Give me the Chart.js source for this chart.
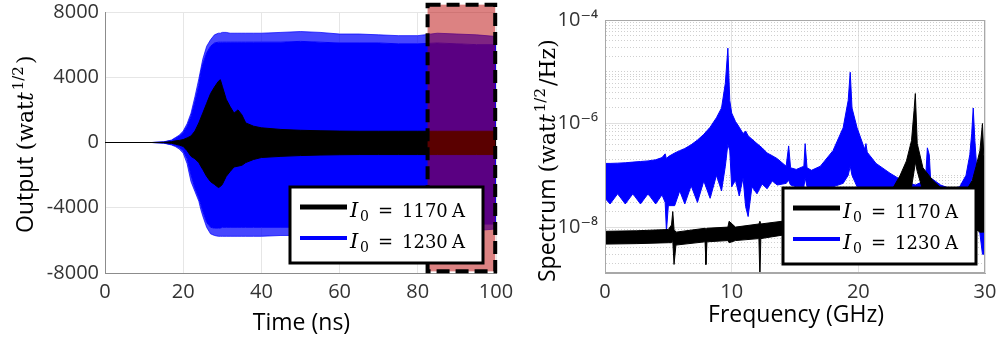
<!DOCTYPE html>
<html>
<head>
<meta charset="utf-8">
<script src="https://cdn.jsdelivr.net/npm/chart.js@4.4.1/dist/chart.umd.min.js"></script>
<style>
  html, body { margin: 0; padding: 0; background: #fff; overflow: hidden; }
  #wrap { position: relative; width: 999px; height: 341px; }
  #left { position: absolute; left: 0; top: 0; }
  #right { position: absolute; left: 500px; top: 0; }
</style>
</head>
<body>
<div id="wrap">
  <canvas id="left" width="520" height="341"></canvas>
  <canvas id="right" width="499" height="341"></canvas>
</div>
<script>
// ---- series labels / colours
const currents = ['1170', '1230'];
const seriesColors = ['#000000', '#0000ff'];

// ---- left panel: output envelopes vs time (ns)
const timeNs = [0, 12, 15, 17, 18, 19, 20, 21, 22, 23, 24, 24.5, 25, 26, 27, 28, 29, 29.5, 30, 31,
  32, 33, 34, 35, 36, 38, 40, 45, 50, 55, 60, 65, 70, 75, 80, 85, 90, 95, 100];
const blueOutTop = [0, 0, 30, 120, 250, 400, 600, 1000, 1600, 2500, 3500, 4300, 4800, 5500, 5900, 6100, 6150, 6150, 6150, 6150,
  6150, 6150, 6150, 6150, 6150, 6150, 6150, 6150, 6200, 6150, 6100, 6100, 6100, 6050, 6050, 6100, 6050, 6000, 6000];
const blueOutPeakTop = [0, 0, 40, 150, 300, 450, 700, 1150, 1800, 2800, 3900, 4500, 5100, 5900, 6300, 6600, 6700, 6700, 6750, 6750,
  6700, 6700, 6700, 6700, 6700, 6700, 6700, 6750, 6800, 6750, 6650, 6650, 6600, 6550, 6550, 6700, 6650, 6600, 6500];
const blueOutBottom = [0, 0, -30, -120, -200, -300, -500, -1000, -2000, -2800, -3400, -3800, -4200, -4900, -5200, -5250, -5250, -5250, -5200, -5200,
  -5200, -5200, -5200, -5200, -5200, -5200, -5200, -5200, -5200, -5200, -5200, -5150, -5150, -5150, -5100, -5100, -5050, -5000, -5000];
const blueOutPeakBottom = [0, 0, -40, -150, -250, -400, -650, -1300, -2400, -3000, -3600, -4100, -4500, -5200, -5600, -5700, -5750, -5750, -5750, -5750,
  -5750, -5750, -5750, -5750, -5750, -5750, -5750, -5700, -5700, -5700, -5700, -5650, -5650, -5600, -5600, -5500, -5450, -5400, -5300];
const blackOutTop = [0, 0, 10, 50, 100, 130, 180, 280, 400, 700, 1200, 1500, 1800, 2400, 3000, 3400, 3750, 3850, 3450, 2650,
  2200, 1800, 2000, 1700, 1200, 1000, 900, 800, 750, 720, 700, 690, 690, 690, 690, 690, 690, 690, 690];
const blackOutBottom = [0, 0, -10, -50, -100, -160, -240, -500, -850, -1000, -1230, -1450, -1650, -2080, -2400, -2570, -2760, -2700, -2570, -2080,
  -1780, -1500, -1450, -1400, -1230, -1040, -920, -850, -800, -770, -750, -740, -740, -740, -740, -740, -740, -740, -740];
const timeTicks = [0, 20, 40, 60, 80, 100];
const outputTicks = [-8000, -4000, 0, 4000, 8000];
const highlightNs = [82.5, 99.8];
const highlightOut = [-7900, 8450];

// ---- right panel: spectrum envelopes vs frequency (GHz)
const freqBlue = [0, 0.4, 1.0, 1.6, 2.2, 2.8, 3.4, 4.0, 4.5, 4.75, 4.85, 5.0, 5.5, 5.9, 6.3, 6.8, 7.3, 7.8, 8.3, 8.8,
  9.2, 9.5, 9.7, 9.85, 10.0, 10.3, 10.6, 10.9, 11.1, 11.3, 11.6, 12.0, 12.4, 12.8, 13.2, 13.6, 14.3, 14.5, 14.65, 15.1,
  15.7, 15.8, 15.95, 16.3, 17.0, 18.0, 18.8, 19.2, 19.36, 19.5, 19.9, 20.5, 20.6, 20.7, 21.4, 22.5, 23.5, 24.5, 25.3, 25.45,
  25.6, 25.7, 26.5, 27.3, 28.0, 28.5, 28.8, 28.95, 29.07, 29.2, 29.45, 29.8, 30];
const blueSpecTop = [1.7e-7, 1.7e-7, 1.72e-7, 1.75e-7, 1.8e-7, 1.85e-7, 1.9e-7, 2.0e-7, 2.2e-7, 2.6e-7,
  2.1e-7, 2.3e-7, 2.7e-7, 3.0e-7, 3.3e-7, 3.9e-7, 4.8e-7, 6.2e-7, 8.5e-7, 1.3e-6,
  2.0e-6, 6.0e-6, 2.86e-5, 2.8e-6, 1.6e-6, 1.1e-6, 8.5e-7, 6.4e-7, 7.2e-7, 5.8e-7,
  5.0e-7, 4.1e-7, 3.4e-7, 2.7e-7, 2.4e-7, 2.1e-7, 1.5e-7, 3.7e-7, 1.4e-7, 1.3e-7,
  1.5e-7, 4.1e-7, 1.4e-7, 1.25e-7, 1.5e-7, 3.0e-7, 8.3e-7, 2.8e-6, 9.8e-6, 2.0e-6,
  8.3e-7, 3.2e-7, 4.1e-7, 2.8e-7, 1.7e-7, 1.1e-7, 7.8e-8, 6.5e-8, 8.0e-8, 3.4e-7,
  2.5e-7, 9.0e-8, 6.5e-8, 5.5e-8, 6.0e-8, 1.0e-7, 2.5e-7, 6.4e-7, 2.0e-6, 4.7e-7,
  6.0e-8, 2.5e-8, 1.0e-8];
const blueSpecBottom = [3.6e-8, 2.8e-8, 4.4e-8, 2.8e-8, 4.4e-8, 2.8e-8, 4.4e-8, 2.8e-8, 4.2e-8, 3.0e-8,
  8.3e-9, 2.6e-8, 2.6e-8, 5.0e-8, 2.8e-8, 6.3e-8, 3.0e-8, 7.8e-8, 3.6e-8, 1.0e-7,
  5.0e-8, 1.5e-7, 4.0e-7, 3.0e-7, 6.0e-8, 8.0e-8, 4.0e-8, 9.0e-8, 2.5e-8, 1.6e-8,
  6.0e-8, 4.4e-8, 6.8e-8, 5.5e-8, 7.8e-8, 6.5e-8, 7.0e-8, 8.0e-8, 6.5e-8, 6.0e-8,
  6.0e-8, 9.0e-8, 6.0e-8, 5.5e-8, 5.8e-8, 6.0e-8, 7.0e-8, 1.0e-7, 1.5e-7, 1.0e-7,
  6.0e-8, 5.5e-8, 5.5e-8, 5.5e-8, 5.0e-8, 4.5e-8, 4.0e-8, 3.5e-8, 4.0e-8, 5.0e-8,
  4.5e-8, 4.0e-8, 3.5e-8, 3.0e-8, 3.5e-8, 4.5e-8, 6.0e-8, 8.0e-8, 1.0e-7, 6.0e-8,
  1.5e-8, 3.0e-9, 3.0e-9];
const freqBlack = [0, 2.5, 5.0, 5.25, 5.35, 5.45, 5.6, 7.9, 7.97, 8.05, 9.7, 9.8, 10.3, 12.15, 12.23, 12.3, 14, 18, 22, 22.7,
  23.3, 23.8, 24.2, 24.4, 24.5, 24.65, 25.1, 25.9, 26.6, 27.5, 28.5, 29.0, 29.3, 29.6, 29.8, 29.9, 30];
const blackSpecTop = [8.3e-9, 8.5e-9, 9.0e-9, 1.1e-8, 2.0e-8, 9.0e-9, 8.0e-9, 9.5e-9, 9.0e-9, 9.5e-9,
  1.0e-8, 1.3e-8, 1.0e-8, 1.15e-8, 1.3e-8, 1.15e-8, 1.3e-8, 1.8e-8, 3.0e-8, 5.5e-8,
  1.0e-7, 1.9e-7, 4.7e-7, 1.8e-6, 3.8e-6, 4.1e-7, 1.4e-7, 7.9e-8, 5.5e-8, 4.0e-8,
  5.0e-8, 8.0e-8, 1.5e-7, 3.0e-7, 1.0e-6, 2.5e-7, 2.0e-7];
const blackSpecBottom = [4.7e-9, 4.8e-9, 5.0e-9, 5.0e-9, 5.5e-9, 1.9e-9, 4.5e-9, 5.2e-9, 1.9e-9, 5.2e-9,
  5.5e-9, 5.0e-9, 5.5e-9, 6.0e-9, 1.0e-9, 6.0e-9, 7.0e-9, 9.0e-9, 1.3e-8, 1.8e-8,
  2.5e-8, 3.5e-8, 6.0e-8, 1.2e-7, 1.8e-7, 1.2e-7, 5.0e-8, 3.0e-8, 2.2e-8, 2.0e-8,
  2.0e-8, 2.0e-8, 9.0e-9, 8.0e-9, 8.0e-9, 8.0e-9, 1.0e-8];
const freqTicks = [0, 10, 20, 30];
const specMajor = [1e-8, 1e-6, 1e-4];
const specMajorLabels = ['10\u207B\u2078', '10\u207B\u2076', '10\u207B\u2074'];
const specMin = 1.3e-9, specMax = 1e-4;

const SANS = "'Open Sans', 'DejaVu Sans', sans-serif";
const SERIF = "'DejaVu Serif', serif";

function pts(xs, ys) { return xs.map((x, i) => ({ x: x, y: ys[i] })); }

function band(data, color, fill) {
  return { data: data, borderColor: color, backgroundColor: color, borderWidth: 1,
    pointRadius: 0, fill: fill, tension: 0 };
}

function fixedTicks(values) {
  return function (scale) { scale.ticks = values.map(v => ({ value: v })); };
}

function drawYTitle(ctx, bx, by, word, tail) {
  ctx.save();
  ctx.translate(bx, by);
  ctx.rotate(-Math.PI / 2);
  ctx.fillStyle = '#000';
  ctx.textAlign = 'left';
  ctx.textBaseline = 'alphabetic';
  let x = 0;
  ctx.font = '23px ' + SANS;
  ctx.fillText(word + ' ', x, 0); x += ctx.measureText(word + ' ').width;
  ctx.font = '22px ' + SERIF;
  ctx.fillText('(wat', x, 0); x += ctx.measureText('(wat').width;
  ctx.font = 'italic 22px ' + SERIF;
  ctx.fillText('t', x, 0); x += ctx.measureText('t').width + 2;
  ctx.font = '15px ' + SERIF;
  ctx.fillText('1/2', x, -10); x += ctx.measureText('1/2').width + 2;
  ctx.font = '22px ' + SERIF;
  ctx.fillText(tail, x, 0);
  ctx.restore();
}

function drawXTitle(ctx, cx, cy, text) {
  ctx.save();
  ctx.fillStyle = '#000';
  ctx.font = '23px ' + SANS;
  ctx.textAlign = 'center';
  ctx.textBaseline = 'middle';
  ctx.fillText(text, cx, cy);
  ctx.restore();
}

function drawLegend(ctx, x0, y0) {
  ctx.save();
  ctx.fillStyle = '#fff';
  ctx.fillRect(x0, y0, 193, 76);
  ctx.lineWidth = 3;
  ctx.strokeStyle = '#000';
  ctx.strokeRect(x0, y0, 193, 76);
  currents.forEach((cur, i) => {
    const ly = y0 + 20 + i * 31;
    ctx.strokeStyle = seriesColors[i];
    ctx.lineWidth = i === 0 ? 5 : 4;
    ctx.beginPath(); ctx.moveTo(x0 + 10, ly); ctx.lineTo(x0 + 57, ly); ctx.stroke();
    const by = ly + 10;
    ctx.fillStyle = '#000';
    ctx.textAlign = 'left';
    ctx.textBaseline = 'alphabetic';
    ctx.font = 'italic 21px ' + SERIF; ctx.fillText('I', x0 + 60, by);
    ctx.font = '14px ' + SERIF; ctx.fillText('0', x0 + 70, by + 4);
    ctx.font = '18px ' + SERIF;
    ctx.fillText('=', x0 + 88, by);
    ctx.fillText(cur, x0 + 112, by);
    ctx.fillText('A', x0 + 162, by);
  });
  ctx.restore();
}

const tickFont = { family: SANS, size: 20 };
const tickColor = '#333333';

// ---------------- left chart
new Chart(document.getElementById('left'), {
  type: 'line',
  data: {
    datasets: [
      band(pts(timeNs, blackOutTop), '#000000', '+1'),
      band(pts(timeNs, blackOutBottom), '#000000', false),
      band(pts(timeNs, blueOutTop), '#0000ff', '+1'),
      band(pts(timeNs, blueOutBottom), '#0000ff', false),
      band(pts(timeNs, blueOutPeakTop), 'rgba(0,0,255,0.72)', 2),
      band(pts(timeNs, blueOutPeakBottom), 'rgba(0,0,255,0.72)', 3)
    ]
  },
  options: {
    responsive: false, animation: false, events: [],
    layout: { padding: { left: 0, top: 12, right: 24, bottom: 0 } },
    plugins: { legend: { display: false }, tooltip: { enabled: false } },
    scales: {
      x: {
        type: 'linear', min: 0, max: 100,
        afterBuildTicks: fixedTicks(timeTicks),
        afterFit(s) { s.height = 68; s.paddingLeft = 0; s.paddingRight = 0; },
        ticks: { callback: v => String(v), color: tickColor, font: tickFont, padding: 7, maxRotation: 0, autoSkip: false },
        grid: { color: '#e6e6e6', drawTicks: false },
        border: { color: '#8c8c8c' }
      },
      y: {
        type: 'linear', min: -8000, max: 8000,
        afterBuildTicks: fixedTicks(outputTicks),
        afterFit(s) { s.width = 105; s.paddingTop = 0; s.paddingBottom = 0; },
        ticks: { callback: v => String(v), color: tickColor, font: tickFont, padding: 6, autoSkip: false },
        grid: { color: '#e6e6e6', drawTicks: false },
        border: { color: '#8c8c8c' }
      }
    }
  },
  plugins: [{
    id: 'leftDecor',
    afterDatasetsDraw(chart) {
      const ctx = chart.ctx, xs = chart.scales.x, ys = chart.scales.y;
      const x1 = xs.getPixelForValue(highlightNs[0]), x2 = xs.getPixelForValue(highlightNs[1]);
      const y1 = ys.getPixelForValue(highlightOut[1]), y2 = ys.getPixelForValue(highlightOut[0]);
      ctx.save();
      ctx.fillStyle = 'rgba(184,0,0,0.49)';
      ctx.fillRect(x1, y1, x2 - x1, y2 - y1);
      ctx.setLineDash([13, 6]);
      ctx.lineWidth = 4;
      ctx.strokeStyle = '#000';
      ctx.strokeRect(x1, y1, x2 - x1, y2 - y1);
      ctx.restore();
    },
    afterDraw(chart) {
      const ctx = chart.ctx, a = chart.chartArea;
      drawLegend(ctx, 290, 187);
      drawYTitle(ctx, 33, 233, 'Output', ')');
      drawXTitle(ctx, (a.left + a.right) / 2 + 1, 323, 'Time (ns)');
    }
  }]
});

// ---------------- right chart
const specGridTicks = [];
for (let e = -9; e <= -5; e++) {
  for (let m = 1; m <= 9; m++) {
    const v = m * Math.pow(10, e);
    if (v >= specMin && v <= specMax) specGridTicks.push(v);
  }
}
specGridTicks.push(specMax);
function majorIndex(v) {
  if (v === undefined) return -1;
  return specMajor.findIndex(m => Math.abs(Math.log10(m) - Math.log10(v)) < 1e-6);
}

new Chart(document.getElementById('right'), {
  type: 'line',
  data: {
    datasets: [
      band(pts(freqBlack, blackSpecTop), '#000000', '+1'),
      band(pts(freqBlack, blackSpecBottom), '#000000', false),
      band(pts(freqBlue, blueSpecTop), '#0000ff', '+1'),
      band(pts(freqBlue, blueSpecBottom), '#0000ff', false)
    ]
  },
  options: {
    responsive: false, animation: false, events: [],
    layout: { padding: { left: 0, top: 20, right: 14, bottom: 0 } },
    plugins: { legend: { display: false }, tooltip: { enabled: false } },
    scales: {
      x: {
        type: 'linear', min: 0, max: 30,
        afterBuildTicks: fixedTicks(freqTicks),
        afterFit(s) { s.height = 68; s.paddingLeft = 0; s.paddingRight = 0; },
        ticks: { callback: v => String(v), color: tickColor, font: tickFont, padding: 7, maxRotation: 0, autoSkip: false },
        grid: { color: '#e2e2e2', drawTicks: false },
        border: { color: '#a8a8a8' }
      },
      y: {
        type: 'logarithmic', min: specMin, max: specMax,
        afterBuildTicks: fixedTicks(specGridTicks),
        afterFit(s) { s.width = 105; s.paddingTop = 0; s.paddingBottom = 0; },
        ticks: {
          callback: v => { const i = majorIndex(v); return i >= 0 ? specMajorLabels[i] : ''; },
          color: tickColor, font: tickFont, padding: 7, autoSkip: false
        },
        grid: {
          color: c => (c.tick && majorIndex(c.tick.value) < 0) ? '#cfcfcf' : '#e0e0e0',
          drawTicks: false
        },
        border: {
          color: '#a8a8a8',
          dash: c => (c.tick && majorIndex(c.tick.value) < 0) ? [1, 2] : []
        }
      }
    }
  },
  plugins: [{
    id: 'rightDecor',
    afterDatasetsDraw(chart) {
      const ctx = chart.ctx, a = chart.chartArea;
      ctx.save();
      ctx.strokeStyle = '#a8a8a8';
      ctx.lineWidth = 1;
      ctx.strokeRect(a.left + 0.5, a.top + 0.5, a.right - a.left - 1, a.bottom - a.top - 1);
      ctx.restore();
    },
    afterDraw(chart) {
      const ctx = chart.ctx, a = chart.chartArea;
      drawLegend(ctx, 283, 188);
      drawYTitle(ctx, 55, 282, 'Spectrum', '/Hz)');
      drawXTitle(ctx, (a.left + a.right) / 2 + 1, 315, 'Frequency (GHz)');
    }
  }]
});
</script>
</body>
</html>
